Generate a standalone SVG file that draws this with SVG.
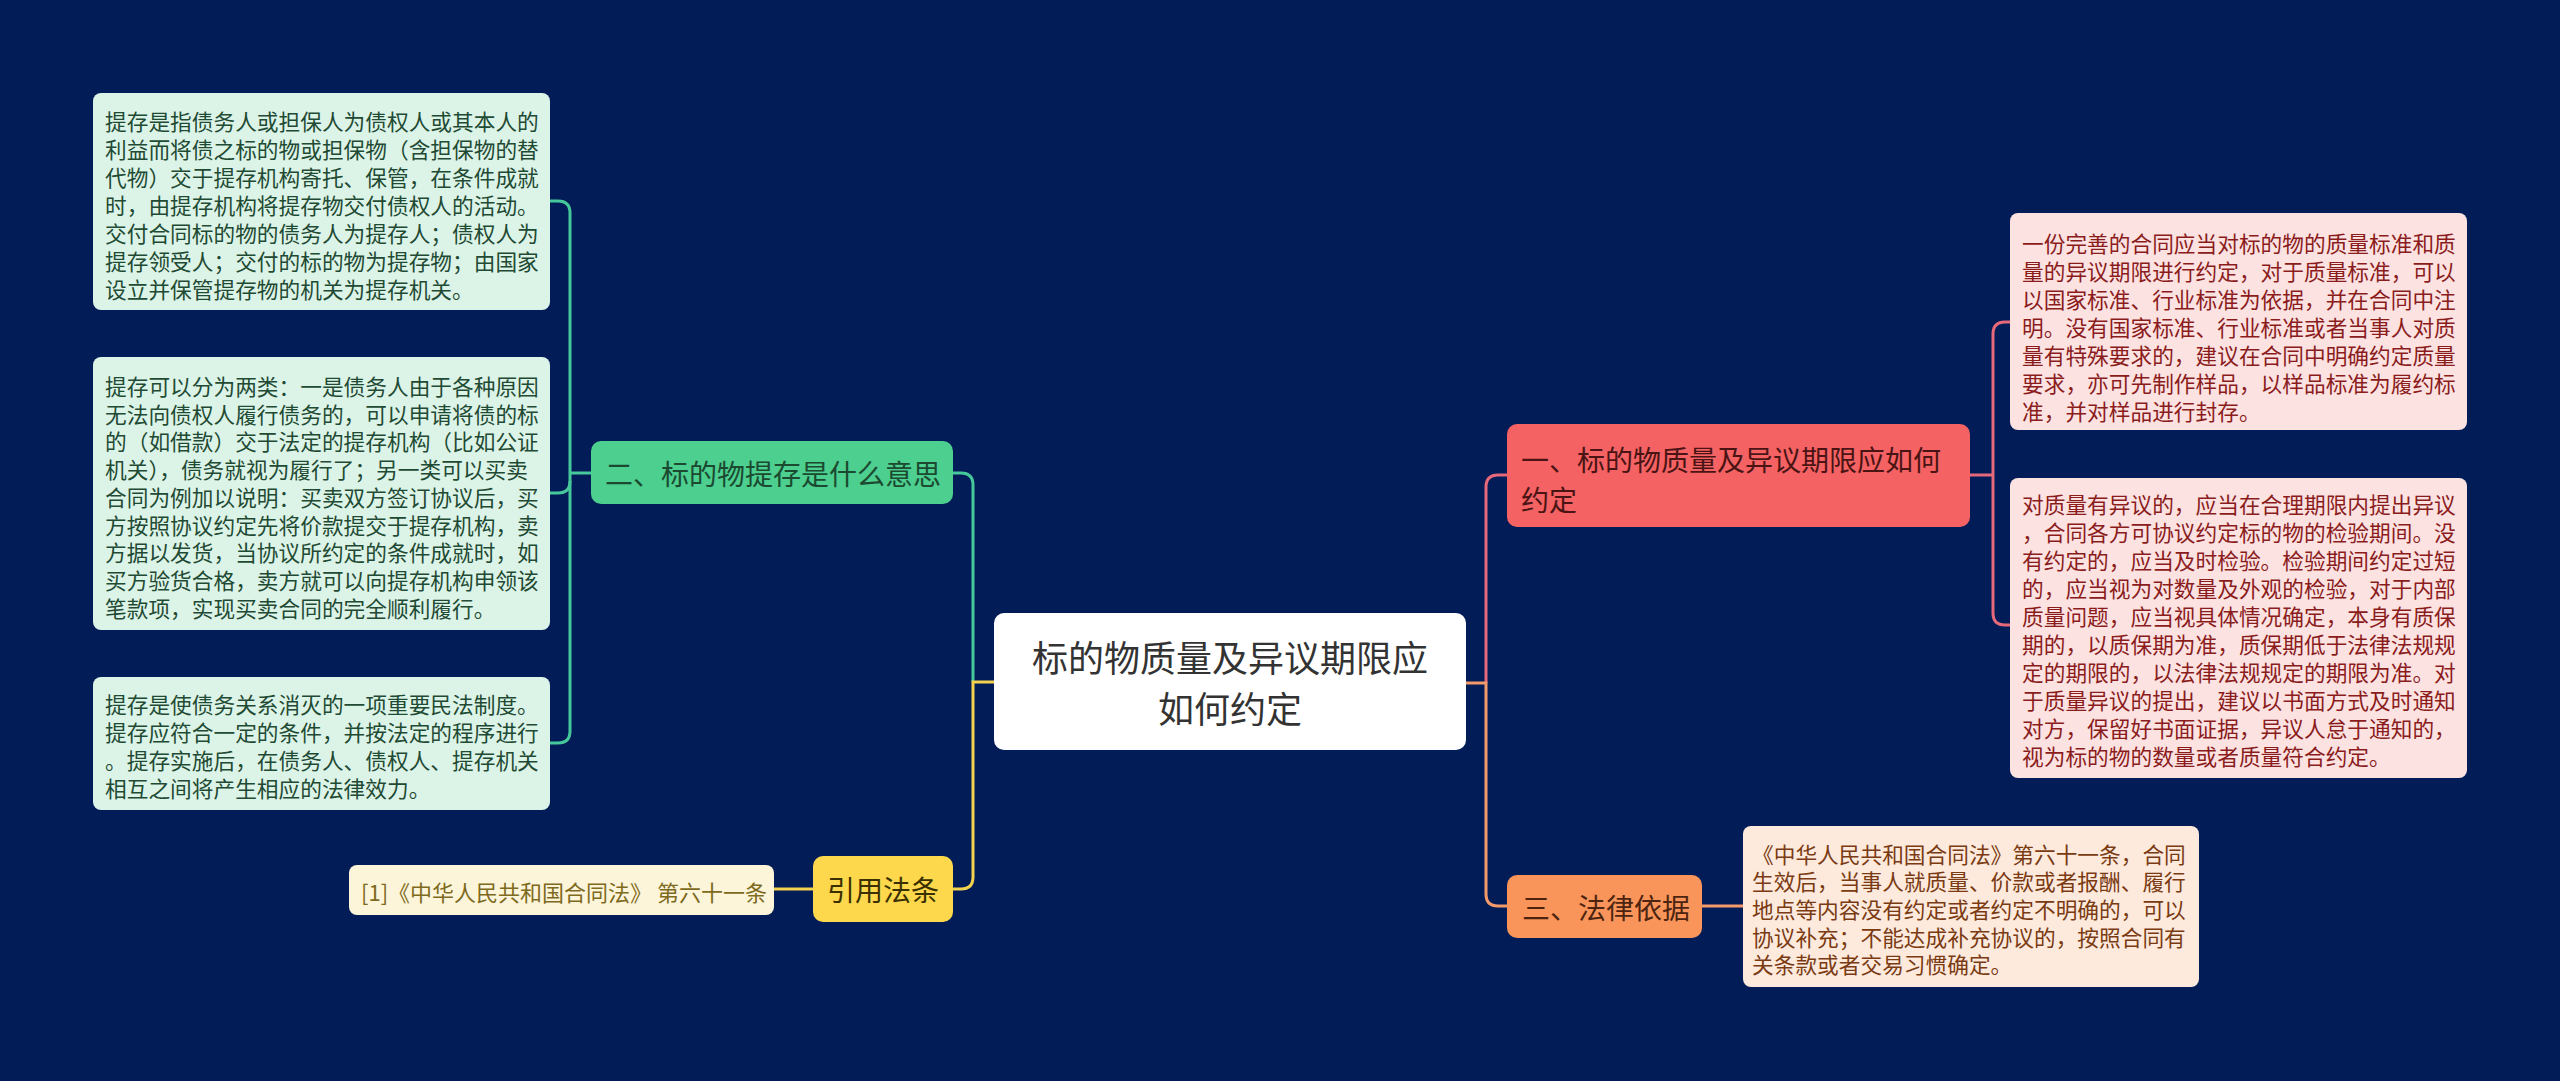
<svg xmlns="http://www.w3.org/2000/svg" width="2560" height="1081" viewBox="0 0 2560 1081">
<style>
text{font-family:"Noto Sans CJK SC","Noto Sans",sans-serif;dominant-baseline:central}
.leaf{font-size:21.7px}
.br{font-size:28px}
.ln{fill:none;stroke-width:3}
.g{stroke:#45c99a}.y{stroke:#f5d24e}.r{stroke:#e5697a}.o{stroke:#f4996a}
</style>
<rect width="2560" height="1081" fill="#021c57"/>
<g id="connectors">
<path class="ln g" d="M591,473 H570"/>
<path class="ln g" d="M550,201 H558 Q570,201 570,213 V731 Q570,743 558,743 H550"/>
<path class="ln g" d="M570,481 Q570,493 558,493 H550"/>
<path class="ln g" d="M953,473 H961 Q973,473 973,485 V682"/>
<path class="ln y" d="M994,682 H973 V877 Q973,889 961,889 H953"/>
<path class="ln y" d="M813,889 H774"/>
<path class="ln r" d="M1486,683 V487 Q1486,475 1498,475 H1507"/>
<path class="ln o" d="M1466,683 H1486 V894 Q1486,906 1498,906 H1507"/>
<path class="ln r" d="M1970,475 H1993"/>
<path class="ln r" d="M2010,322 H2005 Q1993,322 1993,334 V613 Q1993,625 2005,625 H2010"/>
<path class="ln o" d="M1702,906 H1743"/>
</g>
<g id="root">
<rect x="994" y="613" width="472" height="137" rx="10" fill="#ffffff"/>
<text font-size="36" fill="#333333" text-anchor="middle"><tspan x="1230" y="656">标的物质量及异议期限应</tspan><tspan x="1230" y="707">如何约定</tspan></text>
</g>
<g id="node-b2">
<rect x="591" y="441" width="362" height="63" rx="10" fill="#4ccf8f"/>
<text class="br" x="605" y="473" fill="#1b4a31">二、标的物提存是什么意思</text>
</g>
<g id="node-ref">
<rect x="813" y="856" width="140" height="66" rx="10" fill="#fdd84c"/>
<text class="br" x="883" y="889" fill="#3a3000" text-anchor="middle">引用法条</text>
</g>
<g id="node-b1">
<rect x="1507" y="424" width="463" height="103" rx="10" fill="#f56263"/>
<text class="br" fill="#4a1414"><tspan x="1521" y="459">一、标的物质量及异议期限应如何</tspan><tspan x="1521" y="499">约定</tspan></text>
</g>
<g id="node-b3">
<rect x="1507" y="875" width="195" height="63" rx="10" fill="#f9955a"/>
<text class="br" x="1522" y="907" fill="#4d2410">三、法律依据</text>
</g>
<g id="leaf-l1" class="leaf" fill="#1f4a33">
<rect x="93" y="93" width="457" height="217" rx="8" fill="#dcf4e8"/>
<text x="105" y="120">提存是指债务人或担保人为债权人或其本人的</text>
<text x="105" y="148">利益而将债之标的物或担保物（含担保物的替</text>
<text x="105" y="176">代物）交于提存机构寄托、保管，在条件成就</text>
<text x="105" y="204">时，由提存机构将提存物交付债权人的活动。</text>
<text x="105" y="232">交付合同标的物的债务人为提存人；债权人为</text>
<text x="105" y="260">提存领受人；交付的标的物为提存物；由国家</text>
<text x="105" y="288">设立并保管提存物的机关为提存机关。</text>
</g>
<g id="leaf-l2" class="leaf" fill="#1f4a33">
<rect x="93" y="357" width="457" height="273" rx="8" fill="#dcf4e8"/>
<text x="105" y="385">提存可以分为两类：一是债务人由于各种原因</text>
<text x="105" y="413">无法向债权人履行债务的，可以申请将债的标</text>
<text x="105" y="440">的（如借款）交于法定的提存机构（比如公证</text>
<text x="105" y="468">机关），债务就视为履行了；另一类可以买卖</text>
<text x="105" y="496">合同为例加以说明：买卖双方签订协议后，买</text>
<text x="105" y="524">方按照协议约定先将价款提交于提存机构，卖</text>
<text x="105" y="551">方据以发货，当协议所约定的条件成就时，如</text>
<text x="105" y="579">买方验货合格，卖方就可以向提存机构申领该</text>
<text x="105" y="607">笔款项，实现买卖合同的完全顺利履行。</text>
</g>
<g id="leaf-l3" class="leaf" fill="#1f4a33">
<rect x="93" y="677" width="457" height="133" rx="8" fill="#dcf4e8"/>
<text x="105" y="703">提存是使债务关系消灭的一项重要民法制度。</text>
<text x="105" y="731">提存应符合一定的条件，并按法定的程序进行</text>
<text x="105" y="759">。提存实施后，在债务人、债权人、提存机关</text>
<text x="105" y="787">相互之间将产生相应的法律效力。</text>
</g>
<g id="leaf-ref">
<rect x="349" y="865" width="425" height="50" rx="8" fill="#fdf5da"/>
<text x="361" y="891" font-size="22" fill="#7d6a1c">[1]《中华人民共和国合同法》 第六十一条</text>
</g>
<g id="leaf-r1" class="leaf" fill="#8a1c1c">
<rect x="2010" y="213" width="457" height="217" rx="8" fill="#fde2e2"/>
<text x="2022" y="242">一份完善的合同应当对标的物的质量标准和质</text>
<text x="2022" y="270">量的异议期限进行约定，对于质量标准，可以</text>
<text x="2022" y="298">以国家标准、行业标准为依据，并在合同中注</text>
<text x="2022" y="326">明。没有国家标准、行业标准或者当事人对质</text>
<text x="2022" y="354">量有特殊要求的，建议在合同中明确约定质量</text>
<text x="2022" y="382">要求，亦可先制作样品，以样品标准为履约标</text>
<text x="2022" y="410">准，并对样品进行封存。</text>
</g>
<g id="leaf-r2" class="leaf" fill="#8a1c1c">
<rect x="2010" y="478" width="457" height="300" rx="8" fill="#fde2e2"/>
<text x="2022" y="503">对质量有异议的，应当在合理期限内提出异议</text>
<text x="2022" y="531">，合同各方可协议约定标的物的检验期间。没</text>
<text x="2022" y="559">有约定的，应当及时检验。检验期间约定过短</text>
<text x="2022" y="587">的，应当视为对数量及外观的检验，对于内部</text>
<text x="2022" y="615">质量问题，应当视具体情况确定，本身有质保</text>
<text x="2022" y="643">期的，以质保期为准，质保期低于法律法规规</text>
<text x="2022" y="671">定的期限的，以法律法规规定的期限为准。对</text>
<text x="2022" y="699">于质量异议的提出，建议以书面方式及时通知</text>
<text x="2022" y="727">对方，保留好书面证据，异议人怠于通知的，</text>
<text x="2022" y="755">视为标的物的数量或者质量符合约定。</text>
</g>
<g id="leaf-r3" class="leaf" fill="#7a3a12">
<rect x="1743" y="826" width="456" height="161" rx="8" fill="#fdeadd"/>
<text x="1752" y="853">《中华人民共和国合同法》第六十一条，合同</text>
<text x="1752" y="880">生效后，当事人就质量、价款或者报酬、履行</text>
<text x="1752" y="908">地点等内容没有约定或者约定不明确的，可以</text>
<text x="1752" y="936">协议补充；不能达成补充协议的，按照合同有</text>
<text x="1752" y="963">关条款或者交易习惯确定。</text>
</g>
</svg>
